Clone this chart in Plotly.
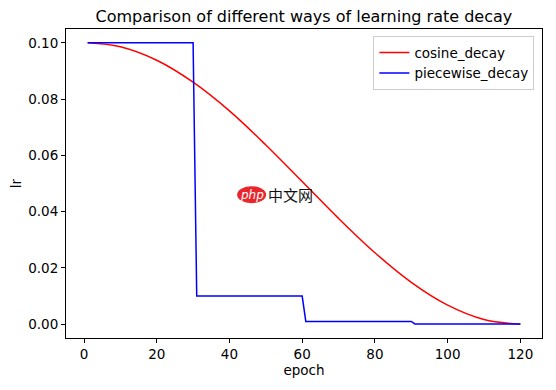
import plotly.graph_objects as go

# cosine decay values
cos_epochs = [1, 10, 20, 30, 40, 50, 60, 70, 80, 90, 100, 110, 120]
cos_lr = [0.1, 0.0986, 0.0938, 0.0860, 0.0758, 0.0637, 0.0507, 0.0376, 0.0254, 0.0149, 0.0068, 0.0017, 0.0]

# piecewise decay breakpoints
pw_epochs = [1, 30, 31, 60, 61, 90, 91, 120]
pw_lr = [0.1, 0.1, 0.01, 0.01, 0.001, 0.001, 0.0001, 0.0001]

x_ticks = [0, 20, 40, 60, 80, 100, 120]
y_ticks = [0.0, 0.02, 0.04, 0.06, 0.08, 0.10]

font = "DejaVu Sans"

fig = go.Figure()
fig.add_trace(go.Scatter(x=cos_epochs, y=cos_lr, mode="lines", name="cosine_decay",
                         line=dict(color="#ff0000", width=1.5, shape="spline")))
fig.add_trace(go.Scatter(x=pw_epochs, y=pw_lr, mode="lines", name="piecewise_decay",
                         line=dict(color="#0000ff", width=1.5)))

axis_common = dict(showline=True, linecolor="#000", linewidth=1, mirror=True,
                   ticks="outside", ticklen=4, tickcolor="#000", showgrid=False,
                   zeroline=False, automargin=False,
                   tickfont=dict(family=font, size=13.5, color="#000"))

W, H = 548, 382
fig.update_layout(
    width=W, height=H,
    margin=dict(l=58, r=14, t=21, b=52),
    paper_bgcolor="white", plot_bgcolor="white",
    font=dict(family=font, color="#000"),
    title=dict(text="Comparison of different ways of learning rate decay",
               x=(58 + 533.7) / 2 / W, xanchor="center", y=1 - 3 / H, yanchor="top",
               pad=dict(t=0, b=0, l=0, r=0),
               font=dict(family=font, size=16, color="#000"), automargin=False),
    xaxis=dict(range=[-4.95, 125.95], tickvals=x_ticks, ticktext=[str(v) for v in x_ticks],
               title=dict(text="epoch", font=dict(family=font, size=13.5), standoff=4), **axis_common),
    yaxis=dict(range=[-0.0049, 0.1049], tickvals=y_ticks, ticktext=[f"{v:.2f}" for v in y_ticks],
               title=dict(text="lr", font=dict(family=font, size=13.5), standoff=8), **axis_common),
    legend=dict(x=0.984, y=0.977, xanchor="right", yanchor="top",
                bordercolor="#cccccc", borderwidth=1, bgcolor="rgba(255,255,255,0.8)",
                font=dict(family=font, size=13.5, color="#000"), itemwidth=30,
                tracegroupgap=0),
    showlegend=True,
)

# watermark
fig.add_shape(type="circle", xref="paper", yref="paper",
              x0=0.3595, x1=0.4204, y0=0.4363, y1=0.4914,
              fillcolor="#e8262c", line=dict(width=0), layer="above")
fig.add_annotation(text="<i>php</i>", xref="paper", yref="paper", x=0.39, y=0.4638,
                   showarrow=False, font=dict(family="DejaVu Sans", size=12, color="white"))
fig.add_annotation(text="中文网", xref="paper", yref="paper", x=0.471, y=0.4642,
                   showarrow=False, font=dict(family="Noto Sans CJK SC", size=15, color="#111"))

fig.write_html("out.html")
